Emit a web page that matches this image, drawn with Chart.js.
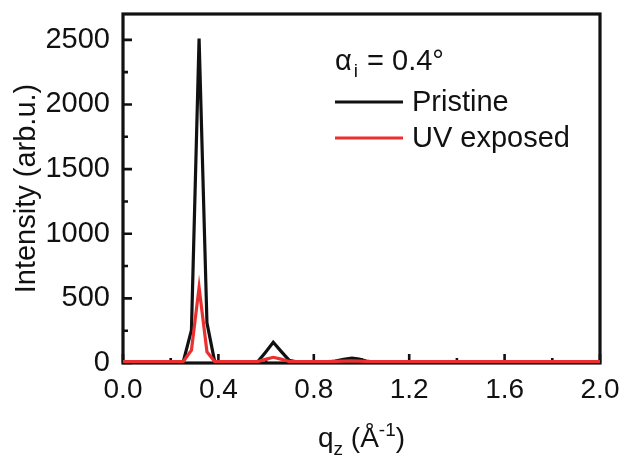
<!DOCTYPE html>
<html><head><meta charset="utf-8">
<script src="https://cdn.jsdelivr.net/npm/chart.js@4/dist/chart.umd.min.js"></script>
<style>html,body{margin:0;padding:0;background:#fff}#wrap{width:620px;height:459px}</style>
</head><body><div id="wrap"><canvas id="c" width="620" height="459"></canvas></div>
<script>
// q_z positions (Å^-1)
const qz        = [0, 0.2, 0.253, 0.287, 0.319, 0.352, 0.385, 0.45, 0.53, 0.563, 0.597, 0.63, 0.663, 0.697, 0.73, 0.85, 0.89, 0.925, 0.96, 0.99, 1.02, 1.06, 1.3, 1.5, 1.55, 1.6, 1.7, 2.0];
// Intensities (arb.u.)
const pristine  = [3, 3, 12, 255, 2510, 310, 5, 3, 3, 5, 82, 160, 90, 20, 8, 5, 15, 28, 38, 30, 15, 5, 5, 5, 10, 8, 5, 3];
const uvExposed = [10, 10, 12, 100, 585, 87, 10, 10, 10, 10, 28, 44, 30, 12, 10, 10, 12, 15, 17, 15, 12, 10, 10, 10, 11, 10, 10, 10];
const xTicks = [0, 0.4, 0.8, 1.2, 1.6, 2.0];
const xMinor = [0.2, 0.6, 1.0, 1.4, 1.8];
const yTicks = [0, 500, 1000, 1500, 2000, 2500];
const yMinor = [250, 750, 1250, 1750, 2250];
const seriesNames = ['Pristine', 'UV exposed'];

const FONT = "'Liberation Sans', Arial, Helvetica, sans-serif";
const BLACK = '#111111';
const RED = 'rgb(236,48,48)';

const deco = {
  id: 'deco',
  beforeDatasetsDraw(chart) {
    const ctx = chart.ctx, a = chart.chartArea;
    const xs = chart.scales.x, ys = chart.scales.y;
    ctx.save();
    ctx.strokeStyle = BLACK;
    ctx.lineWidth = 3.2;
    ctx.strokeRect(a.left, a.top, a.right - a.left, a.bottom - a.top);
    ctx.lineWidth = 2.6;
    ctx.beginPath();
    yTicks.forEach(v => { const y = ys.getPixelForValue(v); ctx.moveTo(a.left, y); ctx.lineTo(a.left + 9, y); });
    yMinor.forEach(v => { const y = ys.getPixelForValue(v); ctx.moveTo(a.left, y); ctx.lineTo(a.left + 5, y); });
    xTicks.forEach(v => { const x = xs.getPixelForValue(v); ctx.moveTo(x, a.bottom); ctx.lineTo(x, a.bottom - 9); });
    xMinor.forEach(v => { const x = xs.getPixelForValue(v); ctx.moveTo(x, a.bottom); ctx.lineTo(x, a.bottom - 5); });
    ctx.stroke();
    ctx.restore();
  },
  afterDraw(chart) {
    const ctx = chart.ctx, a = chart.chartArea;
    ctx.save();
    ctx.fillStyle = '#111';
    ctx.textBaseline = 'alphabetic';
    // y title
    ctx.save();
    ctx.translate(35, (a.top + a.bottom) / 2);
    ctx.rotate(-Math.PI / 2);
    ctx.font = '29px ' + FONT;
    ctx.textAlign = 'center';
    ctx.fillText('Intensity (arb.u.)', 0, 0);
    ctx.restore();
    // x title: q_z (Å^-1)
    const big = '28px ' + FONT, small = '19px ' + FONT;
    const parts = [['q', big, 0], ['z', small, 8], [' (Å', big, 0], ['-1', small, -11], [')', big, 0]];
    let total = 0;
    parts.forEach(p => { ctx.font = p[1]; total += ctx.measureText(p[0]).width; });
    let x = (a.left + a.right) / 2 - total / 2;
    const by = 447;
    ctx.textAlign = 'left';
    parts.forEach(p => { ctx.font = p[1]; ctx.fillText(p[0], x, by + p[2]); x += ctx.measureText(p[0]).width; });
    // legend header α_i = 0.4°
    let lx = 335; const ly = 70;
    ctx.font = '29px ' + FONT; ctx.fillText('α', lx, ly); lx += ctx.measureText('α').width + 2;
    ctx.font = '19px ' + FONT; ctx.fillText('i', lx, ly + 7); lx += ctx.measureText('i').width + 1;
    ctx.font = '29px ' + FONT; ctx.fillText(' = 0.4°', lx, ly);
    // legend entries
    const cols = [BLACK, RED];
    const rows = [102, 138];
    ctx.lineWidth = 3;
    rows.forEach((ry, i) => {
      ctx.strokeStyle = cols[i];
      ctx.beginPath(); ctx.moveTo(335, ry); ctx.lineTo(403, ry); ctx.stroke();
      ctx.font = '29px ' + FONT; ctx.textBaseline = 'middle';
      ctx.fillStyle = '#111';
      ctx.fillText(seriesNames[i], 412, ry + 1);
    });
    ctx.restore();
  }
};

new Chart(document.getElementById('c'), {
  type: 'line',
  data: {
    datasets: [
      { label: seriesNames[1], data: qz.map((q, i) => ({ x: q, y: uvExposed[i] })), borderColor: RED, borderWidth: 3.2, pointRadius: 0, tension: 0, order: 0 },
      { label: seriesNames[0], data: qz.map((q, i) => ({ x: q, y: pristine[i] })), borderColor: BLACK, borderWidth: 3.2, pointRadius: 0, tension: 0, order: 1 }
    ]
  },
  options: {
    responsive: false,
    animation: false,
    devicePixelRatio: 1,
    layout: { padding: { top: 14, right: 20, left: 0, bottom: 0 } },
    plugins: { legend: { display: false }, tooltip: { enabled: false } },
    scales: {
      x: {
        type: 'linear', min: 0, max: 2,
        grid: { display: false }, border: { display: false },
        afterBuildTicks: s => { s.ticks = xTicks.map(v => ({ value: v })); },
        afterFit: s => { s.height = 96; s.paddingLeft = 0; s.paddingRight = 0; },
        ticks: { padding: 2, color: '#111', font: { family: FONT, size: 28 }, maxRotation: 0, callback: v => v.toFixed(1) }
      },
      y: {
        type: 'linear', min: 0, max: 2700,
        grid: { display: false }, border: { display: false },
        afterBuildTicks: s => { s.ticks = yTicks.map(v => ({ value: v })); },
        afterFit: s => { s.width = 123; s.paddingTop = 0; s.paddingBottom = 0; },
        ticks: { padding: 5, color: '#111', font: { family: FONT, size: 29 }, callback: v => String(v) }
      }
    }
  },
  plugins: [deco]
});
</script></body></html>
